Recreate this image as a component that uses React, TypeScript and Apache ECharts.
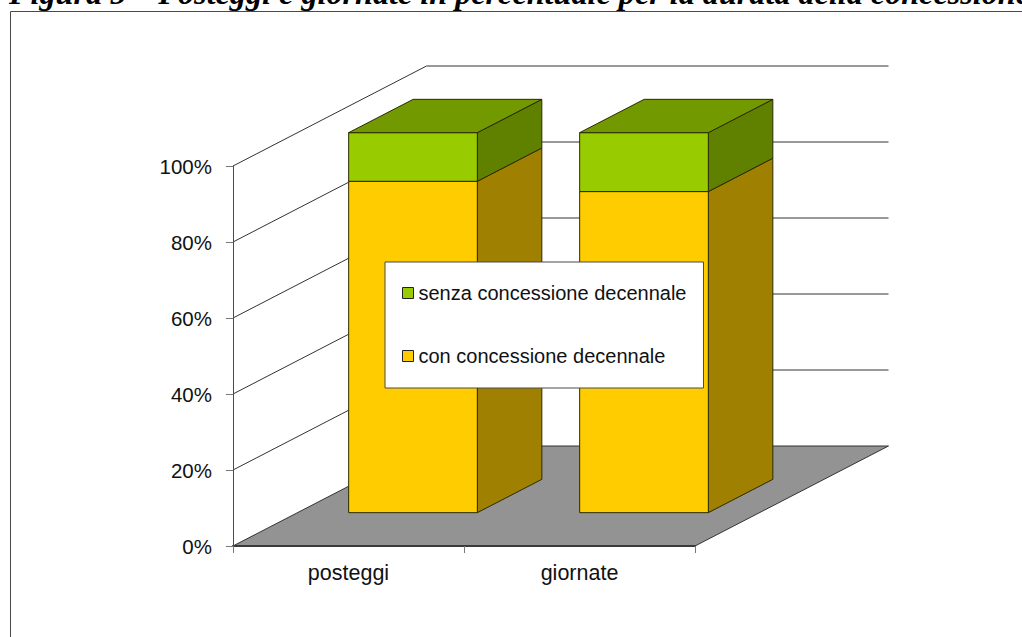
import React, { useEffect, useRef } from "react";
import * as echarts from "echarts";

const titleText = "Figura 5 – Posteggi e giornate in percentuale per la durata della concessione";
const categories = ["posteggi", "giornate"];
const conConcessione = [87.2, 84.5];
const senzaConcessione = [12.8, 15.5];
const valueTicks = [0, 20, 40, 60, 80, 100];
const nameCon = "con concessione decennale";
const nameSenza = "senza concessione decennale";

// Oblique projection of the depth axis, in pixels
const DEPTH_X = 193.5;
const DEPTH_Y = 100;
const BAR_NEAR = 1 / 3;
const BAR_FAR = 2 / 3;
const BAR_RATIO = 0.557;
const LINE = "#333333";
const EDGE = "#2b2a00";

const wallItem = (params: any, api: any) => {
  const [x0, y] = api.coord([0, api.value(0)]);
  const band = api.size([1, 0])[0];
  const x1 = x0 - band / 2;
  const x2 = x1 + band * categories.length;
  const isFloor = api.value(0) === 0;
  const children: any[] = [];
  if (isFloor) {
    children.push({
      type: "polygon",
      shape: { points: [[x1, y], [x2, y], [x2 + DEPTH_X, y - DEPTH_Y], [x1 + DEPTH_X, y - DEPTH_Y]] },
      style: { fill: "#939393", stroke: null },
    });
    children.push({
      type: "line",
      shape: { x1: x2, y1: y, x2: x2 + DEPTH_X, y2: y - DEPTH_Y },
      style: { stroke: LINE, lineWidth: 1 },
    });
  }
  children.push({
    type: "polyline",
    shape: { points: [[x1, y], [x1 + DEPTH_X, y - DEPTH_Y], [x2 + DEPTH_X, y - DEPTH_Y]] },
    style: { stroke: LINE, lineWidth: 1, fill: "none" },
  });
  return { type: "group", children };
};

const barItem = (front: string, side: string, top: string | null) => (params: any, api: any) => {
  const idx = api.value(0);
  const lowP = api.coord([idx, api.value(1)]);
  const highP = api.coord([idx, api.value(2)]);
  const w = api.size([1, 0])[0] * BAR_RATIO;
  const nx = DEPTH_X * BAR_NEAR;
  const ny = DEPTH_Y * BAR_NEAR;
  const fx = DEPTH_X * BAR_FAR;
  const fy = DEPTH_Y * BAR_FAR;
  const l = lowP[0] - w / 2;
  const r = lowP[0] + w / 2;
  const lo = lowP[1];
  const hi = highP[1];
  const st = (fill: string) => ({ fill, stroke: EDGE, lineWidth: 1, lineJoin: "round" });
  const children: any[] = [
    {
      type: "polygon",
      shape: { points: [[r + nx, lo - ny], [r + fx, lo - fy], [r + fx, hi - fy], [r + nx, hi - ny]] },
      style: st(side),
    },
    {
      type: "polygon",
      shape: { points: [[l + nx, lo - ny], [r + nx, lo - ny], [r + nx, hi - ny], [l + nx, hi - ny]] },
      style: st(front),
    },
  ];
  if (top) {
    children.push({
      type: "polygon",
      shape: { points: [[l + nx, hi - ny], [r + nx, hi - ny], [r + fx, hi - fy], [l + fx, hi - fy]] },
      style: st(top),
    });
  }
  return { type: "group", children };
};

export default function App() {
  const ref = useRef<HTMLDivElement>(null);
  useEffect(() => {
    const chart = echarts.init(ref.current!, null, { renderer: "svg" });
    chart.setOption({
      animation: false,
      backgroundColor: "#ffffff",
      title: {
        text: titleText,
        left: 9,
        top: -23,
        padding: 0,
        textStyle: {
          fontFamily: "Liberation Serif",
          fontStyle: "italic",
          fontWeight: "bold",
          fontSize: 32.2,
          color: "#000000",
        },
      },
      graphic: [
        {
          type: "polyline",
          shape: { points: [[10.5, 637], [10.5, 11.5], [1022, 11.5]] },
          style: { stroke: "#4a4a4a", lineWidth: 1, fill: "none" },
          z: 10,
        },
      ],
      legend: {
        orient: "vertical",
        left: 385,
        top: 262,
        padding: [21, 17, 22, 17],
        itemWidth: 11,
        itemHeight: 11,
        itemGap: 43,
        selectedMode: false,
        backgroundColor: "#ffffff",
        borderColor: "#4a4a4a",
        borderWidth: 1,
        icon: "rect",
        itemStyle: { borderColor: "#222222", borderWidth: 1 },
        textStyle: { fontFamily: "Liberation Sans", fontSize: 20, color: "#111111" },
        data: [nameSenza, nameCon],
      },
      grid: { left: 233, top: 166, width: 462, height: 380, containLabel: false },
      xAxis: {
        type: "category",
        data: categories,
        z: 5,
        axisLine: { lineStyle: { color: "#3a3a3a", width: 2 } },
        axisTick: { show: true, length: 7, alignWithLabel: false, lineStyle: { color: "#777777" } },
        axisLabel: { fontFamily: "Liberation Sans", fontSize: 21.5, color: "#111111", margin: 16 },
        splitLine: { show: false },
      },
      yAxis: {
        type: "value",
        min: 0,
        max: 100,
        interval: 20,
        z: 5,
        axisLine: { show: true, lineStyle: { color: "#4a4a4a", width: 1 } },
        axisTick: { show: true, length: 7, lineStyle: { color: "#777777" } },
        axisLabel: {
          fontFamily: "Liberation Sans",
          fontSize: 20.5,
          color: "#111111",
          margin: 21,
          formatter: "{value}%",
        },
        splitLine: { show: false },
      },
      series: [
        {
          type: "custom",
          name: "walls",
          z: 1,
          silent: true,
          renderItem: wallItem,
          encode: { y: 0 },
          data: valueTicks.map((v) => [v]),
        },
        {
          type: "custom",
          name: nameCon,
          z: 2,
          renderItem: barItem("#FFCC00", "#A08000", null),
          itemStyle: { color: "#FFCC00", borderColor: "#222222", borderWidth: 1 },
          encode: { x: 0, y: [1, 2] },
          data: categories.map((_, i) => [i, 0, conConcessione[i]]),
        },
        {
          type: "custom",
          name: nameSenza,
          z: 3,
          renderItem: barItem("#99CC00", "#608000", "#739900"),
          itemStyle: { color: "#99CC00", borderColor: "#222222", borderWidth: 1 },
          encode: { x: 0, y: [1, 2] },
          data: categories.map((_, i) => [i, conConcessione[i], conConcessione[i] + senzaConcessione[i]]),
        },
      ],
    });
    return () => chart.dispose();
  }, []);
  return (
    <div
      ref={ref}
      style={{ position: "absolute", left: 0, top: 0, width: 1022, height: 637, overflow: "hidden" }}
    />
  );
}
